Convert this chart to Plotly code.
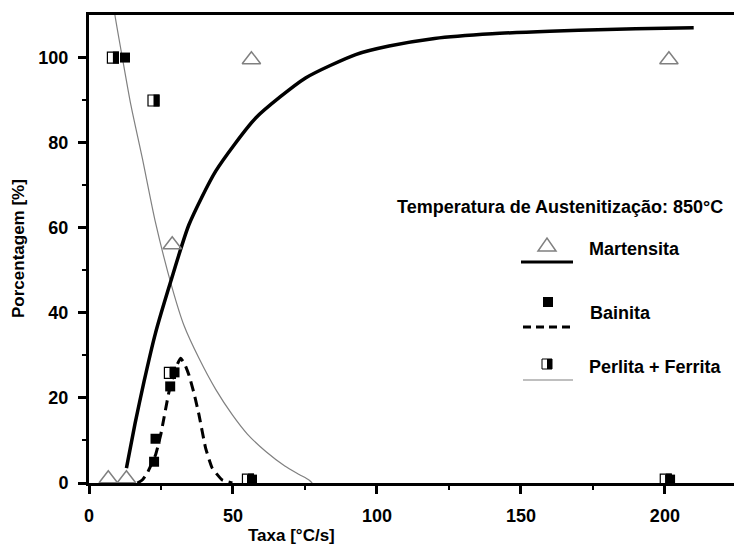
import plotly.graph_objects as go

# ---------------- data ----------------
# Martensita: measured points and fitted curve
mart_x = [6.7, 13.0, 28.9, 56.4, 201.4]
mart_y = [1.0, 1.0, 56.0, 99.5, 99.5]
mart_curve_x = [13.0, 16.0, 19.1, 23.0, 28.4, 34.7, 44.0, 57.9, 75.2, 92.6, 104.2, 120.0, 140.0, 160.0, 180.0, 200.0, 210.0]
mart_curve_y = [3.5, 14.0, 23.8, 35.0, 47.4, 60.7, 73.3, 85.8, 95.2, 100.7, 102.7, 104.5, 105.6, 106.2, 106.6, 106.9, 107.0]

# Bainita: measured points and fitted curve
bain_x = [12.5, 22.6, 23.1, 28.2, 29.7, 56.6, 201.8]
bain_y = [100.0, 5.0, 10.4, 22.7, 26.0, 0.8, 0.8]
bain_curve_x = [16.8, 18.5, 20.2, 23.1, 24.9, 27.8, 30.1, 31.8, 33.2, 34.7, 36.5, 38.2, 40.5, 42.8, 46.3, 49.8]
bain_curve_y = [0.0, 0.7, 2.3, 6.6, 11.3, 21.5, 27.0, 29.3, 28.0, 25.4, 21.0, 16.0, 8.2, 3.5, 0.7, 0.0]

# Perlita + Ferrita: measured points and fitted curve
perl_x = [8.3, 22.4, 28.1, 55.2, 200.3]
perl_y = [100.0, 89.9, 25.9, 0.8, 0.8]
perl_curve_x = [8.5, 9.0, 11.6, 14.5, 18.5, 23.0, 28.9, 33.0, 38.2, 44.0, 49.8, 55.0, 61.4, 68.0, 73.0, 76.4, 77.5]
perl_curve_y = [113.0, 110.0, 99.9, 89.0, 76.4, 61.5, 45.8, 37.0, 29.3, 22.0, 16.0, 11.5, 7.4, 4.0, 2.0, 0.7, 0.0]

x_ticks = [0, 50, 100, 150, 200]
y_ticks = [0, 20, 40, 60, 80, 100]

legend_title = "Temperatura de Austenitização: 850°C"
legend_labels = ["Martensita", "Bainita", "Perlita + Ferrita"]
x_title = "Taxa [°C/s]"
y_title = "Porcentagem [%]"

# ---------------- layout constants ----------------
W, H = 734, 548
L, R, T, B = 89, 0, 15, 65
PW, PH = W - L - R, H - T - B
FONT = "Liberation Sans"
GRAY = "#808080"


def px(x):
    return (x - L) / PW


def py(y):
    return (H - B - y) / PH


fig = go.Figure()

# curves
fig.add_trace(go.Scatter(x=perl_curve_x, y=perl_curve_y, mode="lines",
                         line=dict(color=GRAY, width=1.2, shape="spline", smoothing=0.6),
                         showlegend=False, hoverinfo="skip"))
fig.add_trace(go.Scatter(x=mart_curve_x, y=mart_curve_y, mode="lines",
                         line=dict(color="black", width=3.5, shape="spline", smoothing=0.6),
                         showlegend=False, hoverinfo="skip"))
fig.add_trace(go.Scatter(x=bain_curve_x, y=bain_curve_y, mode="lines",
                         line=dict(color="black", width=3, dash="10px,6px", shape="spline", smoothing=0.4),
                         showlegend=False, hoverinfo="skip"))

# markers
fig.add_trace(go.Scatter(x=mart_x, y=mart_y, mode="markers", cliponaxis=False,
                         marker=dict(symbol="triangle-up-open", size=16, color=GRAY,
                                     line=dict(color=GRAY, width=1.5)),
                         showlegend=False))
fig.add_trace(go.Scatter(x=perl_x, y=perl_y, mode="markers", cliponaxis=False,
                         marker=dict(symbol="square", size=11, color="white",
                                     line=dict(color="black", width=1.2)),
                         showlegend=False))
fig.add_trace(go.Scatter(x=bain_x, y=bain_y, mode="markers", cliponaxis=False,
                         marker=dict(symbol="square", size=10, color="black",
                                     line=dict(color="black", width=0)),
                         showlegend=False))

shapes = []
# right (black) half of the Perlita + Ferrita markers, anchored on the data
for xv, yv in zip(perl_x, perl_y):
    shapes.append(dict(type="rect", xref="x", yref="y", xsizemode="pixel", ysizemode="pixel",
                       xanchor=xv, yanchor=yv, x0=0, x1=6, y0=-6, y1=6,
                       fillcolor="black", line=dict(width=0), layer="above"))

# ---------------- legend drawn by hand ----------------
# Martensita
shapes.append(dict(type="path", xref="paper", yref="paper",
                   path=f"M {px(538)} {py(251)} L {px(556)} {py(251)} L {px(547)} {py(238)} Z",
                   line=dict(color=GRAY, width=1.5), fillcolor="rgba(0,0,0,0)"))
shapes.append(dict(type="line", xref="paper", yref="paper", x0=px(521), x1=px(573), y0=py(262), y1=py(262),
                   line=dict(color="black", width=3)))
# Bainita
shapes.append(dict(type="rect", xref="paper", yref="paper", x0=px(543), x1=px(553), y0=py(307), y1=py(297),
                   fillcolor="black", line=dict(width=0)))
shapes.append(dict(type="line", xref="paper", yref="paper", x0=px(523), x1=px(573), y0=py(327), y1=py(327),
                   line=dict(color="black", width=3, dash="8px,5px")))
# Perlita + Ferrita
shapes.append(dict(type="rect", xref="paper", yref="paper", x0=px(542), x1=px(552), y0=py(369), y1=py(359),
                   fillcolor="white", line=dict(color="black", width=1)))
shapes.append(dict(type="rect", xref="paper", yref="paper", x0=px(547), x1=px(552), y0=py(369), y1=py(359),
                   fillcolor="black", line=dict(width=0)))
shapes.append(dict(type="line", xref="paper", yref="paper", x0=px(523), x1=px(573), y0=py(380), y1=py(380),
                   line=dict(color=GRAY, width=1.2)))

tfont = dict(family=FONT, size=18, color="black", weight="bold")
afont = dict(family=FONT, size=17, color="black", weight="bold")
annotations = [
    dict(text=legend_title, x=px(395), y=py(207), xanchor="left", yanchor="middle", showarrow=False, font=tfont),
    dict(text=legend_labels[0], x=px(587), y=py(249), xanchor="left", yanchor="middle", showarrow=False, font=tfont),
    dict(text=legend_labels[1], x=px(588), y=py(313), xanchor="left", yanchor="middle", showarrow=False, font=tfont),
    dict(text=legend_labels[2], x=px(587), y=py(367), xanchor="left", yanchor="middle", showarrow=False, font=tfont),
    dict(text=x_title, x=px(291), y=py(535), xanchor="center", yanchor="middle", showarrow=False, font=afont),
    dict(text=y_title, x=px(18), y=py(249), xanchor="center", yanchor="middle", showarrow=False,
         textangle=-90, font=afont),
]
for a in annotations:
    a["xref"] = "paper"
    a["yref"] = "paper"

tickfont = dict(family=FONT, size=18, color="black", weight="bold")
fig.update_layout(
    width=W, height=H,
    margin=dict(l=L, r=R, t=T, b=B, pad=0, autoexpand=False),
    paper_bgcolor="white", plot_bgcolor="white",
    showlegend=False,
    shapes=shapes,
    annotations=annotations,
    xaxis=dict(range=[0, 224], tickvals=x_ticks, ticktext=[str(v) for v in x_ticks],
               automargin=False,
               showgrid=False, zeroline=False, showline=True, linecolor="black", linewidth=3,
               mirror=True, ticks="outside", ticklen=8, tickwidth=3, tickcolor="black",
               minor=dict(tickvals=[25, 75, 125, 175, 225], ticks="outside", ticklen=4, tickwidth=2,
                          tickcolor="black", showgrid=False),
               tickfont=tickfont, ticklabelstandoff=6),
    yaxis=dict(range=[0, 110], tickvals=y_ticks, ticktext=[str(v) for v in y_ticks],
               automargin=False,
               showgrid=False, zeroline=False, showline=True, linecolor="black", linewidth=3,
               mirror=False, ticks="outside", ticklen=8, tickwidth=3, tickcolor="black",
               minor=dict(tickvals=[10, 30, 50, 70, 90], ticks="outside", ticklen=4, tickwidth=2,
                          tickcolor="black", showgrid=False),
               tickfont=tickfont, ticklabelstandoff=6),
)

fig.write_html("out.html", config={"displayModeBar": False},
               post_script="document.body.style.margin='0';document.body.style.padding='0';")
